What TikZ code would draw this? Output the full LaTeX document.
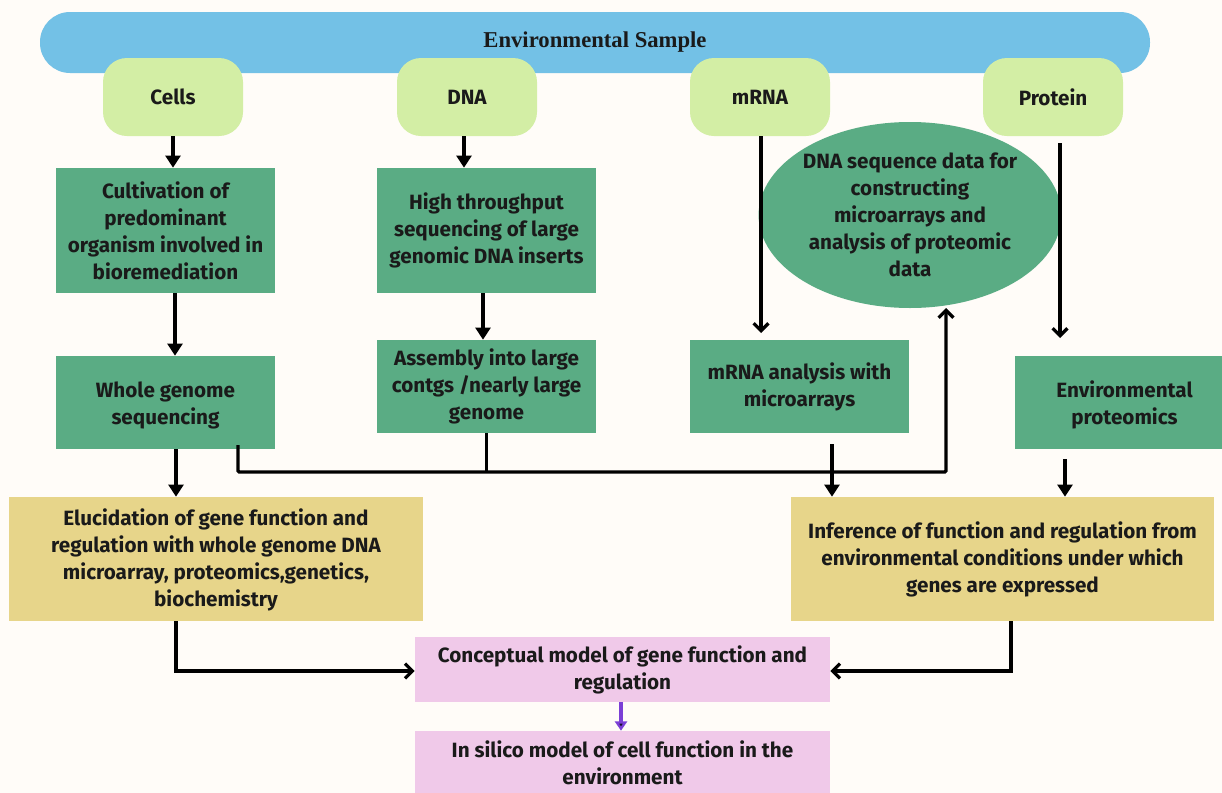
\documentclass[tikz,border=0pt]{standalone}
\usepackage{fontspec}
\setmainfont{Fira Sans}
\newfontfamily\titlefont{Liberation Serif}
\usetikzlibrary{arrows.meta,shapes.geometric,calc}
\definecolor{bgc}{HTML}{FFFCF8}
\definecolor{barc}{HTML}{73C1E6}
\definecolor{lgreen}{HTML}{D3EEA5}
\definecolor{dgreen}{HTML}{5AAC84}
\definecolor{ylw}{HTML}{E7D58A}
\definecolor{pnk}{HTML}{F0C9E9}
\definecolor{txt}{HTML}{1A1A1A}
\definecolor{purp}{HTML}{7B3FD6}
\newcommand{\shiftlines}[2]{\raisebox{#1}[\height][\depth]{\begin{tabular}{@{}c@{}}#2\end{tabular}}}
\tikzset{
  base/.style={inner sep=0pt,align=center,text=txt,font=\fontsize{15.5}{20.25}\selectfont\bfseries},
  srcbox/.style={base,fill=lgreen,rounded corners=18pt,minimum width=105pt,minimum height=58.5pt},
  gbox/.style={base,fill=dgreen,minimum width=164.25pt},
  ybox/.style={base,fill=ylw},
  pbox/.style={base,fill=pnk,minimum width=311.25pt},
  tarr/.style={line width=2.5pt,-{Triangle[width=11pt,length=9pt]}},
  barr/.style={line width=2.5pt,-{Straight Barb[width=11pt,length=5.5pt,line width=2.5pt]}},
  ln/.style={line width=2.5pt}
}
\begin{document}
\begin{tikzpicture}[x=0.75pt,y=-0.75pt]
\useasboundingbox (0,0) rectangle (1222,793);
\clip (0,0) rectangle (1222,793);
\fill[bgc] (0,0) rectangle (1222,793);
% top bar
\node[fill=barc,rounded corners=22.5pt,minimum width=832.5pt,minimum height=45.75pt,inner sep=0pt,text=txt,font=\titlefont\fontsize{17}{18}\selectfont\bfseries] (bar) at (595,42.5) {Environmental Sample};
% source boxes
\node[srcbox] (cells) at (173,97) {Cells};
\node[srcbox] (dna) at (467,97) {DNA};
\node[srcbox] (mrna) at (760,97) {mRNA};
\node[srcbox] (prot) at (1053,97) {Protein};
% green boxes
\node[gbox,minimum height=93.75pt] (cult) at (165.5,230.5) {Cultivation of\\predominant\\organism involved in\\bioremediation};
\node[gbox,minimum height=93.75pt] (high) at (486.5,230.5) {High throughput\\sequencing of large\\genomic DNA inserts};
\node[gbox,minimum height=69.75pt] (whole) at (165.5,402.5) {\shiftlines{-2.2pt}{Whole genome\\sequencing}};
\node[gbox,minimum height=69.75pt] (asm) at (486.5,386.5) {Assembly into large\\contgs /nearly large\\genome};
\node[base,ellipse,fill=dgreen,minimum width=220.5pt,minimum height=139.5pt] (ell) at (910,215) {DNA sequence data for\\constructing\\microarrays and\\analysis of proteomic\\data};
\node[gbox,minimum height=69.75pt] (mana) at (799.5,386.5) {mRNA analysis with\\microarrays};
\node[gbox,minimum height=69.75pt] (envp) at (1124.5,402.5) {\shiftlines{-2.2pt}{Environmental\\proteomics}};
% yellow boxes
\node[ybox,minimum width=310.5pt,minimum height=93pt] (eluc) at (216,559) {\shiftlines{-1.5pt}{Elucidation of gene function and\\regulation with whole genome DNA\\microarray, proteomics,genetics,\\biochemistry}};
\node[ybox,minimum width=317.25pt,minimum height=93pt] (infer) at (1002.5,559) {Inference of function and regulation from\\environmental conditions under which\\genes are expressed};
% pink boxes
\node[pbox,minimum height=48.75pt] (conc) at (622.5,669.5) {Conceptual model of gene function and\\regulation};
\node[pbox,minimum height=51pt] (insil) at (622.5,765) {\shiftlines{-0.5pt}{In silico model of cell function in the\\environment}};
% connectors
\draw[tarr] (cells.south) -- (cells.south |- cult.north);
\draw[tarr] ($(dna.south)+(-3,0)$) -- ($(dna.south |- high.north)+(-3,0)$);
\draw[tarr] ($(cult.south)+(9.5,0)$) -- ($(cult.south |- whole.north)+(9.5,0)$);
\draw[tarr] ($(high.south)+(-3.5,0)$) -- ($(high.south |- asm.north)+(-3.5,0)$);
\draw[tarr] ($(whole.south)+(10.5,0)$) -- ($(whole.south |- eluc.north)+(10.5,0)$);
\coordinate (w0) at (238,445);
\coordinate (j1) at (238,472);
\coordinate (j2) at (946,472);
\coordinate (ae) at (946,308);
\draw[ln] (asm.south) -- (asm.south |- j1);
\draw[barr,rounded corners=1pt] (w0) -- (j1) -- (j2) -- (ae);
\coordinate (ma) at (761,333);
\draw[barr] (761,136) -- (ma);
\coordinate (pa) at (1060,338);
\coordinate (p0) at (1060,143);
\draw[barr] (p0) -- (pa);
\coordinate (m0) at (832,444);
\draw[tarr] (m0) -- (m0 |- infer.north);
\coordinate (e0) at (1065,459);
\draw[tarr] (e0) -- (e0 |- infer.north);
\coordinate (l0) at (176,621);
\coordinate (l1) at (176,671);
\draw[barr] (l0) -- (l1) -- (l1 -| conc.west);
\coordinate (r0) at (1011,621);
\coordinate (r1) at (1011,671);
\draw[barr] (r0) -- (r1) -- (r1 -| conc.east);
\draw[line width=2.5pt,draw=purp,-{Triangle[width=9pt,length=7pt,fill=black!80!purp]}] ($(conc.south)+(-1.5,0)$) -- ($(insil.north)+(-1.5,0)$);
\end{tikzpicture}
\end{document}
